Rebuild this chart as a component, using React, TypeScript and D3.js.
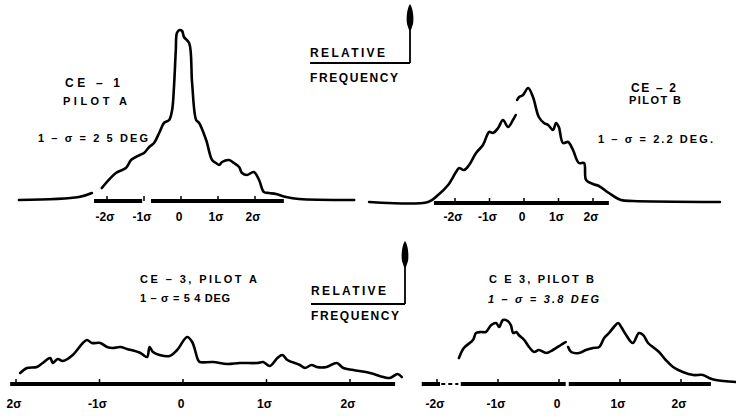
import React from "react";
import * as d3 from "d3";

// sigma positions (x) and relative frequency (y); null = pen lift
const ce1Sigma = [-4.38, -2.76, -2.41, -2.28, -2.14, -1.76, -1.49, -1.35, -1.22, -1.11, -1.0, -0.86, -0.73, -0.59, -0.46, -0.32, -0.24, -0.19, -0.14, -0.11, -0.04, 0.03, 0.08, 0.22, 0.3, 0.41, 0.49, 0.68, 0.84, 0.95, 1.03, 1.11, 1.3, 1.43, 1.57, 1.65, 1.78, 1.97, 2.11, 2.24, 2.38, 2.57, 2.84, 3.19, 4.68];
const ce1Freq = [0, 3, 7, null, 12, 27, 32, 40, 43, 45, 47, 53, 57, 67, 77, 80, 90, 113, 150, 167, 170, 169, 163, 157, 117, 80, 77, 60, 40, 37, 35, 38, 40, 37, 33, 27, 25, 28, 20, 8, 7, 6, 3, 1, 0];

const ce2Sigma = [-4.49, -2.78, -2.49, -2.2, -1.97, -1.88, -1.74, -1.59, -1.39, -1.19, -1.01, -0.9, -0.75, -0.61, -0.46, -0.32, -0.24, -0.22, -0.2, -0.14, -0.03, 0.12, 0.26, 0.43, 0.58, 0.7, 0.84, 0.93, 1.01, 1.13, 1.28, 1.42, 1.59, 1.74, 1.8, 2.0, 2.17, 2.46, 2.81, 3.16, 5.68];
const ce2Freq = [0, 0, 7, 17, 30, 34, 32, 37, 49, 57, 70, 69, 74, 82, 75, 82, 87, null, 102, 105, 107, 114, 105, 85, 79, 77, 72, 79, 75, 59, 60, 52, 39, 39, 22, 18, 16, 9, 2, 1, 0];

const ce3aSigma = [-1.95, -1.87, -1.75, -1.68, -1.59, -1.56, -1.5, -1.44, -1.32, -1.2, -1.15, -1.09, -0.99, -0.91, -0.84, -0.75, -0.67, -0.51, -0.43, -0.4, -0.36, -0.28, -0.16, -0.07, 0.05, 0.11, 0.18, 0.2, 0.36, 0.53, 0.68, 0.89, 0.96, 1.04, 1.13, 1.19, 1.25, 1.4, 1.46, 1.54, 1.6, 1.72, 1.84, 1.92, 2.04, 2.24, 2.4, 2.48, 2.57, 2.62];
const ce3aFreq = [10, 15, 16, 20, 25, 20, 24, 22, 28, 40, 43, 40, 40, 36, 35, 36, 34, 30, 26, 36, 31, 28, 27, 33, 46, 41, 23, 21, 21, 19, 20, 20, 21, 17, 25, 28, 23, 18, 15, 18, 16, 16, 20, 15, 13, 10, 6, 5, 9, 6];

const ce3bSigma = [-1.64, -1.56, -1.41, -1.36, -1.28, -1.2, -1.11, -1.03, -0.98, -0.92, -0.84, -0.79, -0.75, -0.7, -0.66, -0.57, -0.49, -0.41, -0.33, -0.21, -0.1, 0.03, 0.11, 0.13, 0.15, 0.2, 0.33, 0.44, 0.56, 0.66, 0.74, 0.82, 0.9, 0.97, 1.02, 1.1, 1.21, 1.31, 1.38, 1.46, 1.54, 1.64, 1.75, 1.87, 2.03, 2.2, 2.36, 2.46, 2.57, 2.9];
const ce3bFreq = [25, 35, 43, 50, 51, 51, 58, 60, 56, 63, 62, 58, 50, 51, 48, 43, 36, 31, 33, 30, 33, 38, 41, null, 36, 31, 30, 33, 35, 36, 45, 50, 56, 60, 56, 48, 40, 50, 48, 40, 36, 31, 23, 16, 11, 8, 8, 5, 3, 1];

// thick axis bar pieces, in sigma units
const ce1Bars = [[-2.35, -1.05], [-0.81, 2.78]];
const ce2Bars = [[-2.61, 2.46]];
const ce3aBars = [[-2.07, 2.54]];
const ce3bBars = [[-2.25, -1.95], [-1.61, 0.11], [0.16, 2.49]];

const sigmaTicks = [-2, -1, 0, 1, 2];
const tickLabels = ["-2σ", "-1σ", "0", "1σ", "2σ"];
const ce3aTickLabels = ["2σ", "-1σ", "0", "1σ", "2σ"];

const FONT = "'Liberation Sans', Arial, sans-serif";

type PanelProps = {
  sigma: number[];
  freq: (number | null)[];
  range: [number, number];
  base: number;
  bars: number[][];
  labels: string[];
  labelY: number;
  dashed?: [number, number];
};

const Panel = ({ sigma, freq, range, base, bars, labels, labelY, dashed }: PanelProps) => {
  const x = d3.scaleLinear().domain([-2, 2]).range(range);
  const y = d3.scaleLinear().domain([0, 170]).range([base, base - 170]);
  const pts = sigma.map((s, i) => ({ s, f: freq[i] }));
  const line = d3
    .line<{ s: number; f: number | null }>()
    .defined((d) => d.f != null)
    .x((d) => x(d.s))
    .y((d) => y(d.f as number))
    .curve(d3.curveCatmullRom.alpha(0.5));

  return (
    <g>
      {bars.map((b, i) => (
        <line key={i} x1={x(b[0])} x2={x(b[1])} y1={base + 1} y2={base + 1} stroke="#000" strokeWidth={4} />
      ))}
      {dashed && (
        <line x1={x(dashed[0])} x2={x(dashed[1])} y1={base + 1} y2={base + 1} stroke="#000" strokeWidth={2} strokeDasharray="4 3" />
      )}
      {sigmaTicks.map((t) => (
        <line key={t} x1={x(t)} x2={x(t)} y1={base + 1} y2={base - 4} stroke="#000" strokeWidth={1.5} />
      ))}
      <path d={line(pts) || ""} fill="none" stroke="#000" strokeWidth={2.6} strokeLinejoin="round" strokeLinecap="round" />
      {sigmaTicks.map((t, i) => (
        <text key={t} x={x(t) - 2} y={labelY} textAnchor="middle" fontSize={12} fontWeight={700} fontFamily={FONT}>
          {labels[i]}
        </text>
      ))}
    </g>
  );
};

const Label = ({ x, y, w, size = 11, italic = false, children }: any) => (
  <text x={x} y={y} textLength={w} lengthAdjust="spacing" fontSize={size} fontWeight={700} fontStyle={italic ? "italic" : "normal"} fontFamily={FONT}>
    {children}
  </text>
);

const FreqAxis = ({ x0, x1, yLine, yTop, yRel, yFreq }: any) => (
  <g>
    <Label x={x0} y={yRel} w={75} size={12}>RELATIVE</Label>
    <line x1={x0} x2={x1} y1={yLine} y2={yLine} stroke="#000" strokeWidth={1.8} />
    <line x1={x1} x2={x1} y1={yLine} y2={yTop + 10} stroke="#000" strokeWidth={1.8} />
    <path
      d={`M${x1},${yTop} C${x1 + 3},${yTop + 4} ${x1 + 4},${yTop + 14} ${x1 + 3},${yTop + 20} L${x1 + 1},${yTop + 26} L${x1 - 1},${yTop + 26} L${x1 - 3},${yTop + 20} C${x1 - 4},${yTop + 14} ${x1 - 3},${yTop + 4} ${x1},${yTop} Z`}
      fill="#000"
    />
    <Label x={x0} y={yFreq} w={88} size={12}>FREQUENCY</Label>
  </g>
);

export default function App() {
  return (
    <svg width={736} height={416} style={{ position: "absolute", left: 0, top: 0, background: "#fff" }}>
      <rect width={736} height={416} fill="#fff" />

      <Panel sigma={ce1Sigma} freq={ce1Freq} range={[107, 255]} base={200} bars={ce1Bars} labels={tickLabels} labelY={221} />
      <Panel sigma={ce2Sigma} freq={ce2Freq} range={[455, 593]} base={202} bars={ce2Bars} labels={tickLabels} labelY={221} />
      <Panel sigma={ce3aSigma} freq={ce3aFreq} range={[16, 350]} base={383} bars={ce3aBars} labels={ce3aTickLabels} labelY={408} />
      <Panel sigma={ce3bSigma} freq={ce3bFreq} range={[437, 681]} base={383} bars={ce3bBars} labels={tickLabels} labelY={408} dashed={[-1.93, -1.65]} />

      <FreqAxis x0={310} x1={410} yLine={63} yTop={4} yRel={57} yFreq={82} />
      <FreqAxis x0={311} x1={405} yLine={304} yTop={241} yRel={295} yFreq={320} />

      <Label x={65} y={87} w={55} size={12}>CE – 1</Label>
      <Label x={63} y={105} w={64}>PILOT A</Label>
      <Label x={38} y={142} w={110}>1 – σ = 2 5 DEG</Label>

      <Label x={631} y={92} w={45} size={12}>CE – 2</Label>
      <Label x={629} y={104} w={52}>PILOT B</Label>
      <Label x={598} y={143} w={115}>1 – σ = 2.2 DEG.</Label>

      <Label x={140} y={283} w={117}>CE – 3, PILOT A</Label>
      <Label x={140} y={302} w={90}>1 – σ = 5 4 DEG</Label>

      <Label x={489} y={283} w={105}>C E 3, PILOT B</Label>
      <Label x={488} y={303} w={111} italic>1 – σ = 3.8 DEG</Label>
    </svg>
  );
}
